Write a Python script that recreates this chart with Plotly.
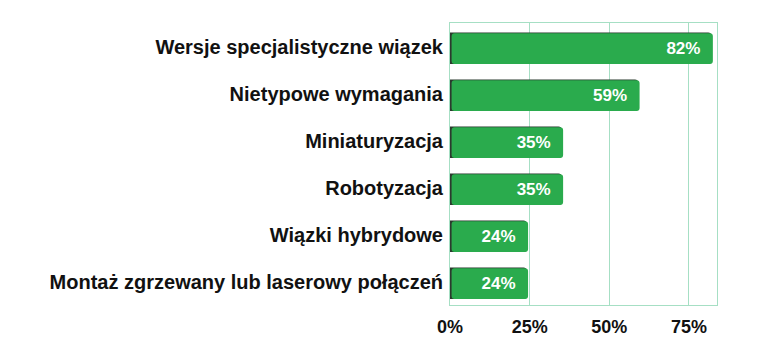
import plotly.graph_objects as go

categories = [
    "Wersje specjalistyczne wiązek",
    "Nietypowe wymagania",
    "Miniaturyzacja",
    "Robotyzacja",
    "Wiązki hybrydowe",
    "Montaż zgrzewany lub laserowy połączeń",
]
values = [82, 59, 35, 35, 24, 24]
labels = [f"{v}%\u00a0\u00a0" for v in values]
tick_vals = [0, 25, 50, 75]
tick_text = ["0%", "25%", "50%", "75%"]

grid_col = "#a6dfc4"
font_fam = "Liberation Sans, Arial, sans-serif"

fig = go.Figure()
# shadow
fig.add_trace(go.Bar(
    y=categories, x=values, orientation="h",
    marker=dict(color="#2b3a2e", line=dict(width=0), cornerradius=3),
    width=0.67, offset=-0.37, hoverinfo="skip", showlegend=False,
))
# main bar
fig.add_trace(go.Bar(
    y=categories, x=values, orientation="h",
    base=0.5,
    marker=dict(color="#2aab4d", line=dict(width=0), cornerradius=3),
    width=0.65, offset=-0.37,
    text=labels, textposition="inside", insidetextanchor="end",
    textfont=dict(color="white", size=17, family=font_fam, weight="bold"),
    showlegend=False,
))

fig.update_layout(
    width=756, height=348,
    margin=dict(l=442, r=47, t=15, b=51),
    paper_bgcolor="white", plot_bgcolor="white",
    barmode="overlay",
    font=dict(family=font_fam, color="#111111"),
)
fig.update_xaxes(
    range=[0, 83.8], tickvals=tick_vals, ticktext=tick_text,
    showgrid=True, gridcolor=grid_col, gridwidth=1,
    showline=True, linecolor=grid_col, linewidth=1, mirror=True,
    zeroline=False, ticks="outside", ticklen=5, tickcolor="rgba(0,0,0,0)",
    tickfont=dict(size=18, family=font_fam, weight="bold", color="#111111"),
)
fig.update_yaxes(
    categoryorder="array", categoryarray=categories[::-1],
    showgrid=False, showline=True, linecolor=grid_col, mirror=True,
    ticks="", ticklabelstandoff=2,
    tickfont=dict(size=20, family=font_fam, weight="bold", color="#111111"),
)

fig.write_html("out.html")
